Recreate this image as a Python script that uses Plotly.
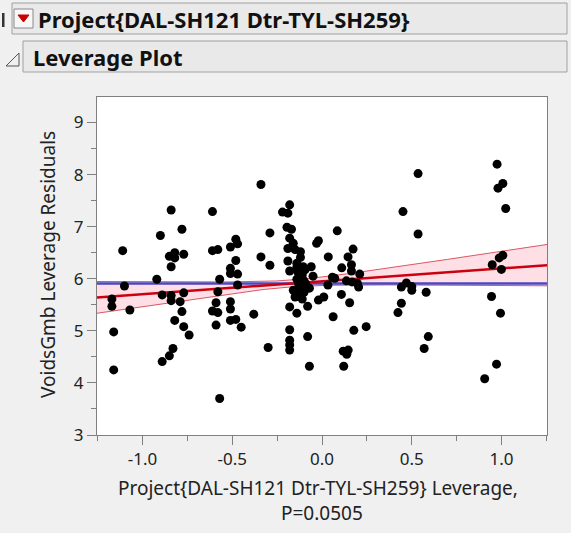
import numpy as np
import plotly.graph_objects as go

# Leverage (x) and leverage residual (y) for each observation
lev_x = [
    -1.11, -1.10, -1.17, -1.17, -1.07, -1.16, -1.16,
    -0.84, -0.78, -0.90, -0.82, -0.77, -0.85, -0.84, -0.92, -0.89, -0.84, -0.84,
    -0.77, -0.79, -0.78, -0.82, -0.77, -0.74, -0.83, -0.85, -0.89, -0.82,
    -0.61, -0.61, -0.58, -0.57, -0.58, -0.59, -0.61, -0.58, -0.59, -0.57,
    -0.48, -0.51, -0.47, -0.48, -0.51, -0.51, -0.47, -0.47, -0.51, -0.51, -0.51, -0.48, -0.45,
    -0.34, -0.34, -0.38, -0.29, -0.29, -0.30,
    -0.22, -0.18, -0.19, -0.195, -0.17, -0.18, -0.16, -0.19, -0.15, -0.12, -0.12,
    -0.19, -0.18, -0.14, -0.14, -0.06, -0.105, -0.135, -0.11, -0.14, -0.10, -0.13,
    -0.09, -0.12, -0.15, -0.10, -0.13, -0.11, -0.095, -0.16, -0.15, -0.18, -0.14,
    -0.18, -0.18, -0.18, -0.18, -0.08, -0.08, -0.07, -0.07, -0.05, -0.02, -0.03,
    0.01, -0.02,
    0.035, 0.033, 0.058, 0.062, 0.085, 0.11, 0.108, 0.118, 0.121, 0.145, 0.173,
    0.164, 0.164, 0.21, 0.136, 0.167, 0.197, 0.204, 0.071, 0.154, 0.246, 0.177,
    0.146, 0.138,
    0.535, 0.451, 0.535, 0.47, 0.442, 0.50, 0.50, 0.58, 0.442, 0.423, 0.592, 0.569,
    0.975, 1.007, 0.98, 1.023, 1.007, 0.987, 0.948, 0.999, 0.944, 0.994, 0.972, 0.906,
]
resid_y = [
    6.54, 5.86, 5.61, 5.47, 5.40, 4.98, 4.25,
    7.32, 6.95, 6.83, 6.50, 6.47, 6.43, 6.23, 5.99, 5.69, 5.68, 5.58,
    5.73, 5.56, 5.37, 5.20, 5.08, 4.92, 4.66, 4.52, 4.41, 6.40,
    7.29, 6.54, 6.56, 5.99, 5.75, 5.54, 5.38, 5.35, 5.11, 3.70,
    6.76, 6.61, 6.67, 6.35, 6.20, 6.10, 6.09, 5.88, 5.56, 5.42, 5.20, 5.22, 5.07,
    7.81, 6.42, 5.32, 6.88, 6.26, 4.68,
    7.28, 7.42, 7.26, 6.99, 6.95, 6.78, 6.68, 6.58, 6.56, 6.52, 6.41,
    6.34, 6.15, 6.30, 6.22, 6.23, 6.23, 6.13, 6.07, 5.99, 5.96, 5.90,
    5.90, 5.82, 5.76, 5.74, 5.67, 5.61, 6.17, 5.78, 5.65, 5.46, 5.34,
    5.02, 4.82, 4.73, 4.63, 5.47, 4.89, 4.32, 5.82, 6.05, 6.73, 6.68,
    5.65, 5.59,
    6.42, 5.88, 6.03, 5.27, 6.92, 6.21, 5.70, 4.61, 4.32, 6.42, 6.57,
    6.27, 6.15, 6.09, 5.96, 5.94, 5.91, 5.84, 6.01, 5.54, 5.08, 5.01,
    4.63, 4.55,
    8.02, 7.29, 6.86, 5.92, 5.84, 5.85, 5.78, 5.74, 5.53, 5.35, 4.89, 4.66,
    8.20, 7.83, 7.74, 7.35, 6.45, 6.40, 6.27, 6.18, 5.66, 5.34, 4.36, 4.08,
]

# Fit summary: mean of response, slope, and confidence band terms
mean_y = 5.91
fit_slope = 0.247
x_center = -0.17
band_a = 0.065
band_b = 0.275

x_range = [-1.253, 1.253]
y_range = [3.0, 9.49]

title_main = "Project{DAL-SH121 Dtr-TYL-SH259}"
title_sub = "Leverage Plot"
x_title_1 = "Project{DAL-SH121 Dtr-TYL-SH259} Leverage,"
x_title_2 = "P=0.0505"
y_title = "VoidsGmb Leverage Residuals"

W, H = 571, 533
ML, MR, MT, MB = 97, 24, 97, 98
PW, PH = W - ML - MR, H - MT - MB


def px(x):
    return (x - ML) / PW


def py(y):
    return (H - MB - y) / PH


FONT = "Noto Sans"
TEXT_COLOR = "#222222"

xs = np.linspace(x_range[0], x_range[1], 200)
fit = mean_y + fit_slope * (xs - x_center)
hw = np.sqrt(band_a ** 2 + (band_b * (xs - x_center)) ** 2)

fig = go.Figure()
fig.add_trace(go.Scatter(x=xs, y=fit + hw, mode="lines",
                         line=dict(color="rgba(215,70,85,0.9)", width=1),
                         hoverinfo="skip", showlegend=False))
fig.add_trace(go.Scatter(x=xs, y=fit - hw, mode="lines",
                         line=dict(color="rgba(215,70,85,0.9)", width=1),
                         fill="tonexty", fillcolor="rgba(252,212,220,0.75)",
                         hoverinfo="skip", showlegend=False))
fig.add_trace(go.Scatter(x=x_range, y=[mean_y, mean_y], mode="lines",
                         line=dict(color="#4a48c0", width=2.5),
                         hoverinfo="skip", showlegend=False))
fig.add_trace(go.Scatter(x=xs, y=fit, mode="lines",
                         line=dict(color="#cc0010", width=2.5),
                         hoverinfo="skip", showlegend=False))
fig.add_trace(go.Scatter(x=lev_x, y=resid_y, mode="markers",
                         marker=dict(color="black", size=9),
                         showlegend=False))

axis_common = dict(
    showgrid=False, zeroline=False, showline=True, linecolor="#7f7f7f",
    linewidth=1, mirror=True, ticks="outside", ticklen=9, tickcolor="#7f7f7f",
    tickfont=dict(family=FONT, size=17, color=TEXT_COLOR),
)
fig.update_xaxes(range=x_range, tickvals=[-1.0, -0.5, 0.0, 0.5, 1.0],
                 ticktext=["-1.0", "-0.5", "0.0", "0.5", "1.0"],
                 minor=dict(dtick=0.25, ticklen=5, tickcolor="#7f7f7f", ticks="outside"),
                 **axis_common)
fig.update_yaxes(range=y_range, tickvals=[3, 4, 5, 6, 7, 8, 9],
                 minor=dict(dtick=0.5, ticklen=5, tickcolor="#7f7f7f", ticks="outside"),
                 **axis_common)

shapes = [
    # outline box headers
    dict(type="rect", xref="paper", yref="paper", x0=px(12), x1=px(567), y0=py(3), y1=py(34),
         fillcolor="#e9e9e9", line=dict(color="#a0a0a0", width=1), layer="below"),
    dict(type="rect", xref="paper", yref="paper", x0=px(23), x1=px(567), y0=py(41), y1=py(72),
         fillcolor="#e9e9e9", line=dict(color="#a0a0a0", width=1), layer="below"),
    # red-triangle menu button
    dict(type="rect", xref="paper", yref="paper", x0=px(14), x1=px(33), y0=py(9), y1=py(28),
         fillcolor="#f7f7f7", line=dict(color="#8a8a8a", width=1)),
    dict(type="path", xref="paper", yref="paper",
         path=f"M {px(18)} {py(15)} L {px(29)} {py(15)} L {px(23.5)} {py(22)} Z",
         fillcolor="#c80000", line=dict(color="#c80000", width=1)),
    # disclosure triangle
    dict(type="path", xref="paper", yref="paper",
         path=f"M {px(6)} {py(66)} L {px(19)} {py(66)} L {px(19)} {py(53)} Z",
         fillcolor="rgba(0,0,0,0)", line=dict(color="#555555", width=1)),
    # small bar at far left
    dict(type="rect", xref="paper", yref="paper", x0=px(2), x1=px(4.5), y0=py(13), y1=py(27),
         fillcolor="#333333", line=dict(width=0)),
]

annotations = [
    dict(text=f"<b>{title_main}</b>", x=px(36), y=py(18.5), xref="paper", yref="paper",
         xanchor="left", yanchor="middle", showarrow=False,
         font=dict(family=FONT, size=22, color="#111111")),
    dict(text=f"<b>{title_sub}</b>", x=px(31), y=py(57), xref="paper", yref="paper",
         xanchor="left", yanchor="middle", showarrow=False,
         font=dict(family=FONT, size=22, color="#111111")),
    dict(text=x_title_1, x=px(318), y=py(488), xref="paper", yref="paper",
         xanchor="center", yanchor="middle", showarrow=False,
         font=dict(family=FONT, size=19, color=TEXT_COLOR)),
    dict(text=x_title_2, x=px(322), y=py(513), xref="paper", yref="paper",
         xanchor="center", yanchor="middle", showarrow=False,
         font=dict(family=FONT, size=19, color=TEXT_COLOR)),
    dict(text=y_title, x=px(48), y=py(265), xref="paper", yref="paper",
         xanchor="center", yanchor="middle", showarrow=False, textangle=-90,
         font=dict(family=FONT, size=19, color=TEXT_COLOR)),
]

fig.update_layout(
    width=W, height=H,
    margin=dict(l=ML, r=MR, t=MT, b=MB, pad=0),
    paper_bgcolor="#f0f0f0", plot_bgcolor="white",
    shapes=shapes, annotations=annotations,
    showlegend=False,
)

fig.write_html("out.html", config=dict(displayModeBar=False))
